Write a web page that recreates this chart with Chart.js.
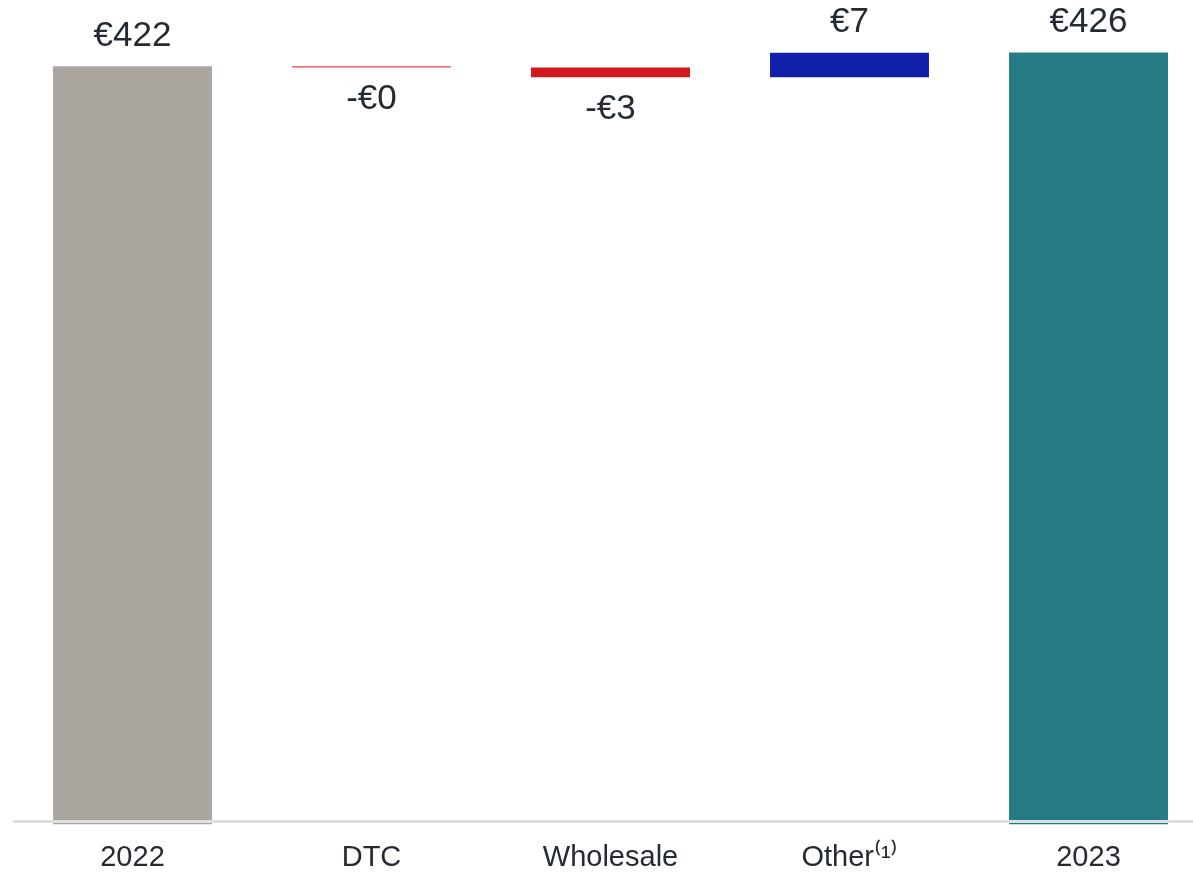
<!DOCTYPE html>
<html>
<head>
<meta charset="utf-8">
<script src="https://cdn.jsdelivr.net/npm/chart.js@4/dist/chart.umd.min.js"></script>
<style>
  html, body { margin: 0; padding: 0; background: #ffffff; overflow: hidden; }
  #wrap { position: absolute; left: 0; top: 0; width: 1210px; height: 891px; }
</style>
</head>
<body>
<div id="wrap"><canvas id="c"></canvas></div>
<script>
// ---- data ----
const categories = ['2022', 'DTC', 'Wholesale', 'Other\u207D\u00B9\u207E', '2023'];
const startTotal = 422;
const changes = [-0.3, -2.8, 7.0];
const endTotal = 426;
const valueLabels = ['€422', '-€0', '-€3', '€7', '€426'];
const barColors = ['#aaa59f', '#ee4048', '#d0191e', '#1020a8', '#267a84'];
const axisMin = 205;
const axisMax = 441;
const baselineValue = 205.9;

// build floating ranges for the waterfall
const ranges = [];
ranges.push([axisMin - 10, startTotal]);
let running = startTotal;
for (const d of changes) {
  ranges.push([running, running + d]);
  running += d;
}
ranges.push([axisMin - 10, endTotal]);

const labelPlugin = {
  id: 'valueLabels',
  afterDatasetsDraw(chart) {
    const ctx = chart.ctx;
    const meta = chart.getDatasetMeta(0);
    ctx.save();
    ctx.font = '35px "Liberation Sans", Arial, sans-serif';
    ctx.fillStyle = '#252b33';
    ctx.textAlign = 'center';
    ctx.textBaseline = 'middle';
    meta.data.forEach((bar, i) => {
      const r = ranges[i];
      const up = r[1] >= r[0];
      const top = Math.min(bar.y, bar.base);
      const bottom = Math.max(bar.y, bar.base);
      const y = up ? top - 30 : bottom + 32;
      ctx.fillText(valueLabels[i], bar.x, y);
    });
    ctx.restore();
  }
};

new Chart(document.getElementById('c'), {
  type: 'bar',
  data: {
    labels: categories,
    datasets: [{
      data: ranges,
      backgroundColor: barColors,
      borderWidth: 0,
      categoryPercentage: 1,
      barPercentage: 0.665
    }]
  },
  options: {
    responsive: true,
    maintainAspectRatio: false,
    animation: false,
    layout: { padding: { left: 13, right: 2, top: 0, bottom: 0 } },
    plugins: { legend: { display: false }, tooltip: { enabled: false } },
    scales: {
      x: {
        grid: { display: false, drawTicks: false },
        border: { display: false },
        ticks: {
          color: '#252b33',
          padding: 16,
          font: { family: '"Liberation Sans", Arial, sans-serif', size: 29 },
          maxRotation: 0
        }
      },
      y: {
        min: axisMin,
        max: axisMax,
        afterBuildTicks(scale) { scale.ticks = [{ value: baselineValue }]; },
        ticks: { display: false },
        border: { display: false },
        grid: { color: '#dde0e3', lineWidth: 3, drawTicks: false, z: 1 }
      }
    }
  },
  plugins: [labelPlugin]
});
</script>
</body>
</html>
